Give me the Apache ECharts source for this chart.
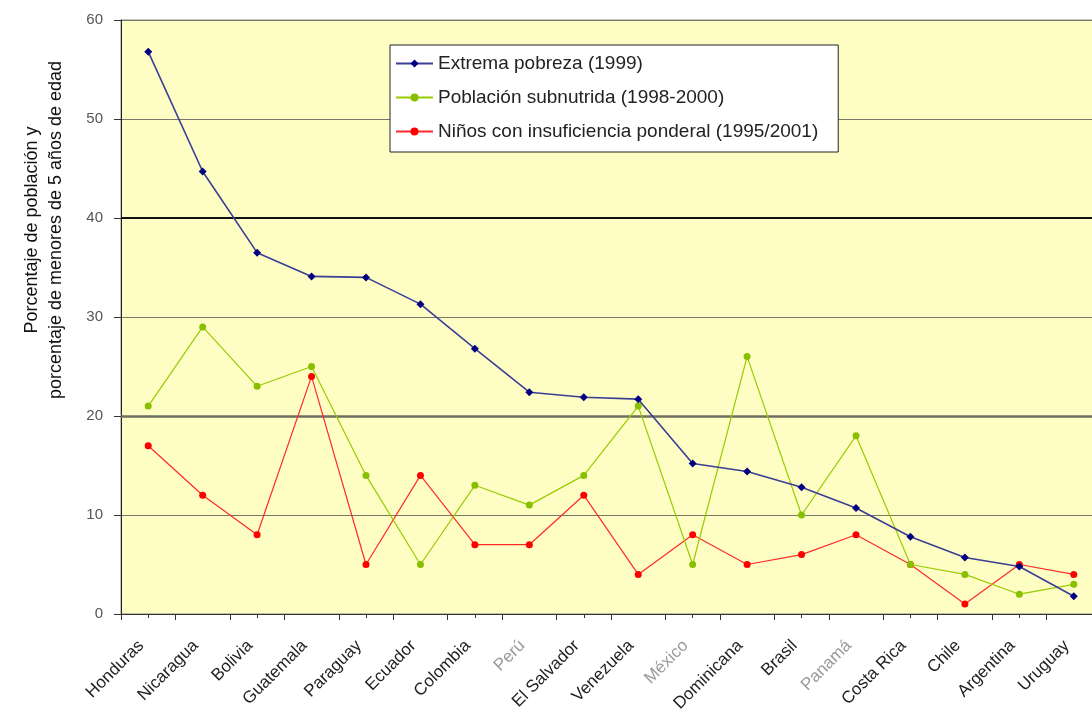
<!DOCTYPE html>
<html>
<head>
<meta charset="utf-8">
<script src="https://cdn.jsdelivr.net/npm/echarts@6/dist/echarts.min.js"></script>
<style>
  html, body { margin: 0; padding: 0; background: #ffffff; }
  #chart { width: 1092px; height: 713px; }
</style>
</head>
<body>
<div id="chart"></div>
<script>
// Países ordenados por pobreza extrema
const paises = ['Honduras', 'Nicaragua', 'Bolivia', 'Guatemala', 'Paraguay', 'Ecuador',
  'Colombia', 'Perú', 'El Salvador', 'Venezuela', 'México', 'Dominicana', 'Brasil',
  'Panamá', 'Costa Rica', 'Chile', 'Argentina', 'Uruguay'];

const extremaPobreza = [56.8, 44.7, 36.5, 34.1, 34.0, 31.3, 26.8, 22.4, 21.9, 21.7,
  15.2, 14.4, 12.8, 10.7, 7.8, 5.7, 4.8, 1.8];

const poblacionSubnutrida = [21, 29, 23, 25, 14, 5, 13, 11, 14, 21,
  5, 26, 10, 18, 5, 4, 2, 3];

const ninosInsuficiencia = [17, 12, 8, 24, 5, 14, 7, 7, 12, 4,
  8, 5, 6, 8, 5, 1, 5, 4];

const nombresSeries = ['Extrema pobreza (1999)', 'Población subnutrida (1998-2000)',
  'Niños con insuficiencia ponderal (1995/2001)'];

const ticksY = [0, 10, 20, 30, 40, 50, 60];

const tituloY = 'Porcentaje de población y\nporcentaje de menores de 5 años de edad';

// Etiquetas con tinta más clara en el eje de categorías
const etiquetasClaras = ['Perú', 'México', 'Panamá'];

const fuente = '"Liberation Sans", Arial, sans-serif';

const chart = echarts.init(document.getElementById('chart'), null, { renderer: 'canvas' });

chart.setOption({
  animation: false,
  backgroundColor: '#ffffff',
  textStyle: { fontFamily: fuente },
  grid: {
    left: 121, top: 20, width: 980, height: 594,
    outerBoundsMode: 'none',
    show: true, backgroundColor: '#fefdc4', borderColor: '#8a8a80', borderWidth: 1
  },
  legend: {
    orient: 'vertical',
    left: 390, top: 45,
    padding: [9, 20, 11, 5],
    itemGap: 15,
    itemWidth: 37, itemHeight: 10,
    backgroundColor: '#ffffff',
    borderColor: '#222222', borderWidth: 1,
    textStyle: { fontFamily: fuente, fontSize: 19, color: '#222222' },
    data: nombresSeries
  },
  graphic: [{
    type: 'text',
    x: 44, y: 230,
    rotation: Math.PI / 2,
    style: {
      text: tituloY,
      font: '18px ' + fuente,
      fill: '#111111',
      textAlign: 'center',
      textVerticalAlign: 'middle',
      lineHeight: 24
    }
  }],
  xAxis: [{
    type: 'category',
    data: paises,
    boundaryGap: true,
    axisLine: { lineStyle: { color: '#333333', width: 1 } },
    axisTick: { show: true, length: 6, lineStyle: { color: '#333333' } },
    axisLabel: {
      rotate: 45, interval: 0, margin: 22, padding: [0, 10, 0, 0],
      fontFamily: fuente, fontSize: 17,
      color: function (v) { return etiquetasClaras.indexOf(v) >= 0 ? '#9a9a9a' : '#222222'; }
    },
    splitLine: { show: false }
  }, {
    type: 'category',
    data: paises,
    position: 'bottom',
    boundaryGap: true,
    axisLine: { show: false },
    axisTick: { show: true, alignWithLabel: true, length: 4, lineStyle: { color: '#333333' } },
    axisLabel: { show: false },
    splitLine: { show: false }
  }],
  yAxis: {
    type: 'value',
    min: ticksY[0], max: ticksY[ticksY.length - 1], interval: 10,
    axisLine: { show: true, lineStyle: { color: '#222222', width: 1 } },
    axisTick: { show: true, length: 7, inside: false, lineStyle: { color: '#333333' } },
    axisLabel: { fontFamily: fuente, fontSize: 15, color: '#555555', margin: 18 },
    splitLine: { show: true, lineStyle: { color: '#77776a', width: 1 } }
  },
  series: [{
    name: nombresSeries[0],
    type: 'line',
    data: extremaPobreza,
    symbol: 'diamond', symbolSize: 8,
    lineStyle: { color: '#3b3f94', width: 1.6 },
    itemStyle: { color: '#000080' },
    z: 5,
    markLine: {
      silent: true, symbol: 'none', label: { show: false },
      data: [
        { yAxis: 40, lineStyle: { color: '#111111', width: 2, type: 'solid' } },
        { yAxis: 20, lineStyle: { color: '#6e6e60', width: 2.5, type: 'solid' } }
      ],
      z: 1
    }
  }, {
    name: nombresSeries[1],
    type: 'line',
    data: poblacionSubnutrida,
    symbol: 'circle', symbolSize: 7,
    lineStyle: { color: '#99cc00', width: 1.2 },
    itemStyle: { color: '#88c000' },
    z: 4
  }, {
    name: nombresSeries[2],
    type: 'line',
    data: ninosInsuficiencia,
    symbol: 'circle', symbolSize: 7,
    lineStyle: { color: '#ff2a2a', width: 1.2 },
    itemStyle: { color: '#ff0000' },
    z: 3
  }]
});
</script>
</body>
</html>
